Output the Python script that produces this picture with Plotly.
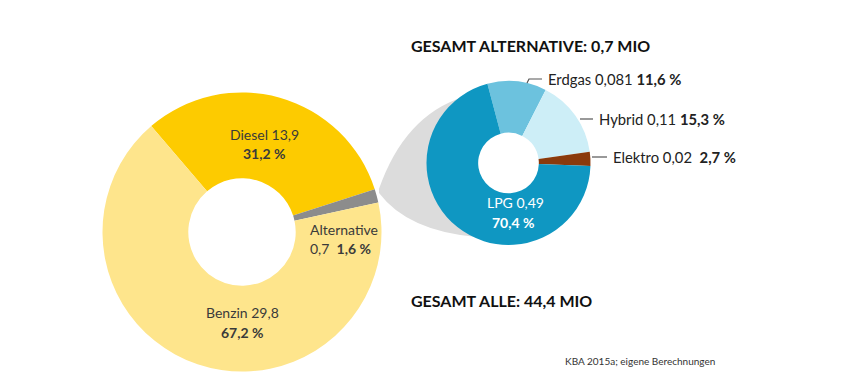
import numpy as np
import plotly.graph_objects as go

# ---- data ----
main_labels = ["Diesel", "Alternative", "Benzin"]
main_values = [13.9, 0.7, 29.8]
main_pct = ["31,2 %", "1,6 %", "67,2 %"]
main_val_txt = ["13,9", "0,7", "29,8"]
main_colors = ["#FDCB00", "#8C8C8C", "#FEE58C"]

alt_labels = ["Erdgas", "Hybrid", "Elektro", "LPG"]
alt_values = [0.081, 0.107, 0.019, 0.49]
alt_pct = ["11,6 %", "15,3 %", "2,7 %", "70,4 %"]
alt_val_txt = ["0,081", "0,11", "0,02", "0,49"]
alt_colors = ["#6CC2DE", "#CDEEF7", "#8A3A0C", "#0F97C2"]

title_alt = "GESAMT ALTERNATIVE: 0,7 MIO"
title_all = "GESAMT ALLE: 44,4 MIO"
source = "KBA 2015a; eigene Berechnungen"

W, H = 848, 385
FONT = "Lato"
TXT = "#3a3a3a"

# ---- geometry (pixels) ----
c1 = (242.0, 232.0); R1 = 139.5
c2 = (508.5, 163.0); R2 = 82.0
rot1 = -40.6
rot2 = -14.9

def px(x):
    return x / W

def py(y):
    return 1 - y / H

def pt(c, r, ang):
    a = np.radians(ang)
    return (c[0] + r * np.sin(a), c[1] - r * np.cos(a))

fig = go.Figure()
fig.add_trace(go.Pie(
    labels=main_labels, values=main_values, sort=False, direction="clockwise",
    rotation=rot1, hole=0.385, marker=dict(colors=main_colors, line=dict(width=0)),
    textinfo="none", hoverinfo="label+value", showlegend=False,
    domain=dict(x=[px(c1[0] - R1), px(c1[0] + R1)], y=[py(c1[1] + R1), py(c1[1] - R1)]),
))
fig.add_trace(go.Pie(
    labels=alt_labels, values=alt_values, sort=False, direction="clockwise",
    rotation=rot2, hole=0.37, marker=dict(colors=alt_colors, line=dict(width=0)),
    textinfo="none", hoverinfo="label+value", showlegend=False,
    domain=dict(x=[px(c2[0] - R2), px(c2[0] + R2)], y=[py(c2[1] + R2), py(c2[1] - R2)]),
))

# ---- connector (grey funnel) from the "Alternative" slice to the second donut ----
alt_start = rot1 + 360 * main_values[0] / sum(main_values)
tip_top = pt(c1, R1 + 4, alt_start + 0.5)
tip_bot = pt(c1, R1 + 3, alt_start + 2.0)
ang_top, ang_bot = 326, 202
p_top1 = pt(c2, R2 - 2, ang_top)
p_bot1 = pt(c2, R2 - 2, ang_bot)
ctrl_top = (404.5, 115.5)
ctrl_bot = (408, 231.5)
path = f"M {px(tip_top[0])},{py(tip_top[1])} Q {px(ctrl_top[0])},{py(ctrl_top[1])} {px(p_top1[0])},{py(p_top1[1])}"
for ang in np.linspace(ang_top, ang_bot, 30):
    q = pt(c2, R2 - 2, ang)
    path += f" L {px(q[0])},{py(q[1])}"
path += f" Q {px(ctrl_bot[0])},{py(ctrl_bot[1])} {px(tip_bot[0])},{py(tip_bot[1])} Z"
fig.add_shape(type="path", path=path, xref="paper", yref="paper",
              fillcolor="#DCDCDC", line=dict(width=0), layer="below")

# ---- leader lines for small alt slices ----
fig.add_shape(type="path", xref="paper", yref="paper", line=dict(color="#555", width=1.2),
              path=f"M {px(527)},{py(83)} L {px(529)},{py(79)} L {px(542)},{py(79)}")
fig.add_shape(type="line", xref="paper", yref="paper", line=dict(color="#555", width=1.2),
              x0=px(580), x1=px(593), y0=py(119), y1=py(119))
fig.add_shape(type="line", xref="paper", yref="paper", line=dict(color="#555", width=1.2),
              x0=px(592), x1=px(607), y0=py(157), y1=py(157))

ann = []
def add(x, y, text, size=14, color=TXT, anchor="center"):
    ann.append(dict(x=px(x), y=py(y), xref="paper", yref="paper", text=text, showarrow=False,
                    xanchor=anchor, yanchor="middle",
                    font=dict(family=FONT, size=size, color=color)))

# main donut labels
add(264, 134, f"{main_labels[0]} {main_val_txt[0]}")
add(264, 153, f"<b>{main_pct[0]}</b>")
add(308, 229, main_labels[1], anchor="left")
add(308, 248, f"{main_val_txt[1]}  <b>{main_pct[1]}</b>", anchor="left")
add(243, 312, f"{main_labels[2]} {main_val_txt[2]}")
add(243, 332, f"<b>{main_pct[2]}</b>")

# alt donut labels
add(515, 203, f"{alt_labels[3]} {alt_val_txt[3]}", color="white")
add(513, 222, f"<b>{alt_pct[3]}</b>", color="white")
add(546, 79, f"{alt_labels[0]} {alt_val_txt[0]} <b>{alt_pct[0]}</b>", size=14.8, anchor="left", color="#222")
add(597, 119, f"{alt_labels[1]} {alt_val_txt[1]} <b>{alt_pct[1]}</b>", size=14.8, anchor="left", color="#222")
add(611, 157, f"{alt_labels[2]} {alt_val_txt[2]}  <b>{alt_pct[2]}</b>", size=14.8, anchor="left", color="#222")

# titles
add(409, 45, f"<b>{title_alt}</b>", size=16, color="#111", anchor="left")
add(409, 300, f"<b>{title_all}</b>", size=16, color="#111", anchor="left")
add(563, 361, source, size=10, color="#333", anchor="left")

fig.update_layout(width=W, height=H, margin=dict(l=0, r=0, t=0, b=0),
                  paper_bgcolor="white", plot_bgcolor="white", annotations=ann)
fig.write_html("out.html", config={"displayModeBar": False},
               post_script="document.body.style.margin='0';")
